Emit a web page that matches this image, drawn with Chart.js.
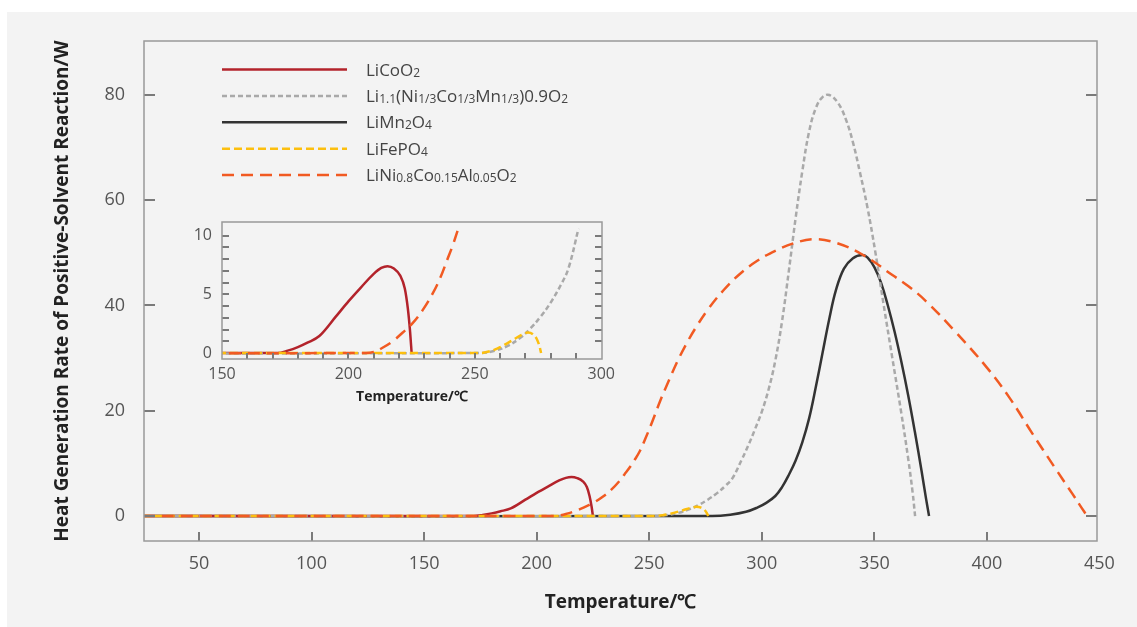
<!DOCTYPE html>
<html>
<head>
<meta charset="utf-8">
<script src="https://cdn.jsdelivr.net/npm/chart.js@4.4.1/dist/chart.umd.min.js"></script>
<style>
  html, body { margin: 0; padding: 0; background: #fff; }
  #wrap { position: relative; width: 1137px; height: 627px; overflow: hidden; }
  #panel { position: absolute; left: 7px; top: 12px; right: 0; bottom: 0; background: #f3f3f3; }
  #main { position: absolute; left: 0; top: 0; }
  #inset { position: absolute; left: 150px; top: 200px; }
</style>
</head>
<body>
<div id="wrap">
  <div id="panel"></div>
  <canvas id="main" width="1137" height="627"></canvas>
  <canvas id="inset" width="480" height="215"></canvas>
</div>
<script>
// series names, _{..} marks a subscript
var seriesNames = ['LiCoO_{2}', 'Li_{1.1}(Ni_{1/3}Co_{1/3}Mn_{1/3})0.9O_{2}', 'LiMn_{2}O_{4}', 'LiFePO_{4}', 'LiNi_{0.8}Co_{0.15}Al_{0.05}O_{2}'];

// temperature (℃) / heat rate (W)
var tempLiCoO2 = [25, 172, 176, 180, 184, 188.5, 195, 200, 205, 210, 213, 215.5, 218, 220.5, 222.3, 223.5, 224.4, 225];
var heatLiCoO2 = [0, 0, 0.2, 0.5, 0.9, 1.45, 3.1, 4.4, 5.6, 6.75, 7.25, 7.4, 7.2, 6.6, 5.5, 3.8, 1.8, 0];

var tempNCM = [25, 252, 258, 263, 268, 272, 276, 280, 284, 287, 291, 294, 297, 300, 303, 306, 309, 312, 315, 318, 321, 324, 327, 330, 334, 337.5, 340.5, 343.5, 347, 350.5, 354, 358, 362, 365, 367, 368.1];
var heatNCM = [0, 0, 0.2, 0.6, 1.3, 2.1, 3.1, 4.3, 5.8, 7.2, 10.6, 13.4, 16.5, 19.8, 24, 29.5, 37, 46.5, 56.5, 65.5, 73, 77.5, 79.6, 80, 78.4, 75.2, 71, 65.5, 58.5, 50, 40.5, 30, 19.5, 11, 4.5, 0];

var tempLMO = [25, 278, 286, 293, 298, 302, 306, 309, 312, 315, 318, 321, 324, 327, 330, 333, 336.5, 340.5, 344.7, 347, 350, 353, 356, 359, 362, 365, 368, 371, 373, 374.3];
var heatLMO = [0, 0, 0.25, 0.8, 1.6, 2.5, 3.8, 5.5, 7.8, 10.5, 14, 18.5, 24.5, 31, 37.5, 43, 47, 49, 49.6, 49.1, 47.3, 44.3, 40, 35, 29.3, 23, 16, 8.5, 3.2, 0];

var tempLFP = [25, 252, 256, 260, 265, 268.5, 271, 273, 274.5, 275.6, 276.2];
var heatLFP = [0, 0, 0.15, 0.5, 1.1, 1.55, 1.75, 1.6, 1.2, 0.55, 0];

var tempNCA = [25, 207, 210, 213.5, 217.5, 221.5, 225.4, 229.5, 233.4, 236.5, 239, 241.3, 243.3, 245.8, 248.5, 251.6, 255, 259, 263, 267, 271, 276, 283, 290, 298, 306, 314, 323, 333, 345, 358, 365, 373, 386, 400, 410, 420, 430, 438, 442, 444.5];
var heatNCA = [0, 0, 0.1, 0.45, 1.0, 1.75, 2.55, 3.7, 5.1, 6.5, 7.9, 9.2, 10.5, 12.3, 14.9, 18.2, 22, 26, 29.8, 33.1, 36, 39.2, 42.9, 45.9, 48.5, 50.4, 51.8, 52.6, 51.9, 49.6, 45.8, 43.7, 40.8, 35, 28.2, 22.5, 15.8, 9.3, 4.2, 1.6, 0];

// tick labels
var xTicks = [50, 100, 150, 200, 250, 300, 350, 400, 450];
var yTicks = [0, 20, 40, 60, 80];
var insetXTicks = [150, 200, 250, 300];
var insetYTicks = [0, 5, 10];
var insetXMinor = [160, 170, 180, 190, 200, 210, 220, 230, 240, 250, 260, 270, 280, 290];
var insetYMinor = [1, 2, 3, 4, 5, 6, 7, 8, 9, 10];

function pts(xs, ys) {
  return xs.map(function (x, i) { return { x: x, y: ys[i] }; });
}

var styles = [
  { color: '#b3232b', dash: [], order: 3, mono: true },
  { color: '#a9a9a9', dash: [5, 3], order: 2, mono: false },
  { color: '#333333', dash: [], order: 4, mono: false },
  { color: '#fcbf0f', dash: [8, 4], order: 1, mono: true },
  { color: '#f15a22', dash: [12, 7], order: 0, mono: false }
];
var series = [pts(tempLiCoO2, heatLiCoO2), pts(tempNCM, heatNCM), pts(tempLMO, heatLMO), pts(tempLFP, heatLFP), pts(tempNCA, heatNCA)];

function makeSet(i, data) {
  return {
    label: seriesNames[i].replace(/_\{([^}]*)\}/g, '$1'),
    data: data,
    borderColor: styles[i].color,
    borderWidth: 2.5,
    borderDash: styles[i].dash,
    order: styles[i].order,
    pointRadius: 0,
    fill: false,
    tension: 0.4,
    cubicInterpolationMode: styles[i].mono ? 'monotone' : 'default'
  };
}

// frame box + inward tick marks
var frameTicks = {
  id: 'frameTicks',
  afterDatasetsDraw: function (chart, args, o) {
    var a = chart.chartArea, ctx = chart.ctx;
    var xs = chart.scales.x, ys = chart.scales.y;
    ctx.save();
    ctx.strokeStyle = '#7a7a7a';
    ctx.lineWidth = 2;
    ctx.beginPath();
    o.xValues.forEach(function (v) {
      var px = Math.round(xs.getPixelForValue(v));
      if (px <= a.left + 1 || px >= a.right - 1) return;
      ctx.moveTo(px, a.bottom); ctx.lineTo(px, a.bottom - o.xLen);
    });
    o.yValues.forEach(function (v) {
      var py = Math.round(ys.getPixelForValue(v));
      if (py <= a.top + 1 || py >= a.bottom - 1) return;
      ctx.moveTo(a.left, py); ctx.lineTo(a.left + o.yLen, py);
      ctx.moveTo(a.right, py); ctx.lineTo(a.right - o.yLen, py);
    });
    ctx.stroke();
    ctx.strokeStyle = '#999';
    ctx.lineWidth = 1.5;
    ctx.strokeRect(a.left, a.top, a.right - a.left, a.bottom - a.top);
    ctx.restore();
  }
};

// legend with subscripts
var subLegend = {
  id: 'subLegend',
  afterDraw: function (chart) {
    var ctx = chart.ctx;
    ctx.save();
    chart.data.datasets.forEach(function (ds, i) {
      var y = 69.5 + i * 26.4;
      ctx.strokeStyle = ds.borderColor;
      ctx.lineWidth = 2.5;
      ctx.setLineDash(ds.borderDash);
      ctx.beginPath();
      ctx.moveTo(222, y);
      ctx.lineTo(347, y);
      ctx.stroke();
      ctx.setLineDash([]);
      var x = 366;
      ctx.fillStyle = '#444';
      ctx.textBaseline = 'alphabetic';
      seriesNames[i].split(/(_\{[^}]*\})/).forEach(function (p) {
        if (!p) return;
        var sub = p.charAt(0) === '_';
        var t = sub ? p.slice(2, -1) : p;
        ctx.font = sub ? '12px "Open Sans"' : '17px "Open Sans"';
        ctx.fillText(t, x, y + 6 + (sub ? 1 : 0));
        x += ctx.measureText(t).width;
      });
    });
    ctx.restore();
  }
};

var chart = new Chart(document.getElementById('main').getContext('2d'), {
  type: 'line',
  data: { datasets: series.map(function (d, i) { return makeSet(i, d); }) },
  options: {
    responsive: false,
    animation: false,
    layout: { padding: { left: 0, top: 41, right: 40, bottom: 0 } },
    plugins: {
      legend: { display: false },
      tooltip: { enabled: false },
      frameTicks: { xValues: xTicks, yValues: yTicks, xLen: 9, yLen: 11 }
    },
    scales: {
      x: {
        type: 'linear', min: 25.6, max: 448.9,
        afterBuildTicks: function (s) { s.ticks = xTicks.map(function (v) { return { value: v }; }); },
        afterFit: function (s) { s.height = 86; },
        grid: { display: false, drawTicks: false },
        border: { display: false },
        ticks: { padding: 12, color: '#555', font: { family: 'Open Sans', size: 18 }, maxRotation: 0, autoSkip: false },
        title: { display: true, text: 'Temperature/℃', color: '#222', font: { family: 'Open Sans', size: 19, weight: 'bold' }, padding: { top: 0, bottom: 13 } }
      },
      y: {
        type: 'linear', min: -4.75, max: 90.26,
        afterBuildTicks: function (s) { s.ticks = yTicks.map(function (v) { return { value: v }; }); },
        afterFit: function (s) { s.width = 144; },
        grid: { display: false, drawTicks: false },
        border: { display: false },
        ticks: { padding: 19, color: '#555', font: { family: 'Open Sans', size: 18 } },
        title: { display: true, text: 'Heat Generation Rate of Positive-Solvent Reaction/W', color: '#222', font: { family: 'Open Sans', size: 19, weight: 'bold' }, padding: { top: 51, bottom: 0 } }
      }
    }
  },
  plugins: [frameTicks, subLegend]
});

// inset: same series, cut where they leave the small frame, no LiMn2O4
function insetData(d) {
  var out = [];
  for (var i = 0; i < d.length; i++) {
    if (d[i].y > 11) break;
    out.push(d[i]);
  }
  return out;
}
var insetSets = [];
[0, 1, 3, 4].forEach(function (i) { insetSets.push(makeSet(i, insetData(series[i]))); });

var chart2 = new Chart(document.getElementById('inset').getContext('2d'), {
  type: 'line',
  data: { datasets: insetSets },
  options: {
    responsive: false,
    animation: false,
    layout: { padding: { left: 0, top: 22, right: 28, bottom: 0 } },
    plugins: {
      legend: { display: false },
      tooltip: { enabled: false },
      frameTicks: { xValues: insetXMinor, yValues: insetYMinor, xLen: 6, yLen: 7 }
    },
    scales: {
      x: {
        type: 'linear', min: 150, max: 300.3,
        afterBuildTicks: function (s) { s.ticks = insetXTicks.map(function (v) { return { value: v }; }); },
        afterFit: function (s) { s.height = 56; },
        grid: { display: false, drawTicks: false },
        border: { display: false },
        ticks: { padding: 6, color: '#555', font: { family: 'Open Sans', size: 16 }, maxRotation: 0, autoSkip: false },
        title: { display: true, text: 'Temperature/℃', color: '#222', font: { family: 'Open Sans', size: 14, weight: 'bold' }, padding: { top: 0, bottom: 9.6 } }
      },
      y: {
        type: 'linear', min: -0.51, max: 11.17,
        afterBuildTicks: function (s) { s.ticks = insetYTicks.map(function (v) { return { value: v }; }); },
        afterFit: function (s) { s.width = 72; },
        grid: { display: false, drawTicks: false },
        border: { display: false },
        ticks: { padding: 10, color: '#555', font: { family: 'Open Sans', size: 16 } }
      }
    }
  },
  plugins: [frameTicks]
});
</script>
</body>
</html>
